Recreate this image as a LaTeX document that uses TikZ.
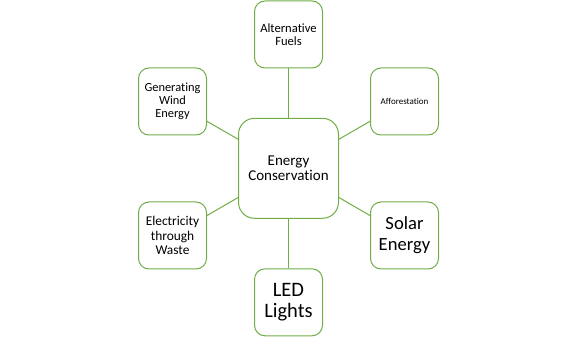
\documentclass[tikz,border=0pt]{standalone}
\usepackage{fontspec}
\setmainfont{Carlito}[Ligatures=NoCommon]
\definecolor{boxgreen}{HTML}{70AD47}
\begin{document}
\begin{tikzpicture}[x=1pt,y=-1pt,
  leaf/.style={draw=boxgreen, line width=1pt, fill=white, rounded corners=10.5pt,
    minimum width=68pt, minimum height=67pt, inner sep=1pt, align=center, text=black},
  hub/.style={draw=boxgreen, line width=1pt, fill=white, rounded corners=16pt,
    minimum width=100pt, minimum height=100pt, inner sep=1pt, align=center, text=black},
  link/.style={draw=boxgreen, line width=1pt}]
\useasboundingbox (0,0) rectangle (576,339);
\node[hub, font=\fontsize{15}{15}\selectfont] (c) at (288.5,168.3) {Energy\\Conservation};
\node[leaf, font=\fontsize{12.6}{13}\selectfont] (t) at (288.5,34.5) {Alternative\\Fuels};
\node[leaf, font=\fontsize{12.4}{13}\selectfont] (lt) at (172.5,101.5) {Generating\\Wind\\Energy};
\node[leaf, font=\fontsize{9}{9}\selectfont] (rt) at (404.5,101.5) {Afforestation};
\node[leaf, font=\fontsize{13.4}{14.5}\selectfont] (lb) at (172.5,235.5) {Electricity\\through\\Waste};
\node[leaf, font=\fontsize{18.6}{21}\selectfont] (rb) at (404.5,235.5) {Solar\\Energy};
\node[leaf, font=\fontsize{20.5}{21.3}\selectfont] (b) at (288.5,302.3) {LED\\Lights};
\foreach \n in {t,lt,rt,lb,rb,b} \draw[link] (c) -- (\n);
\end{tikzpicture}
\end{document}
